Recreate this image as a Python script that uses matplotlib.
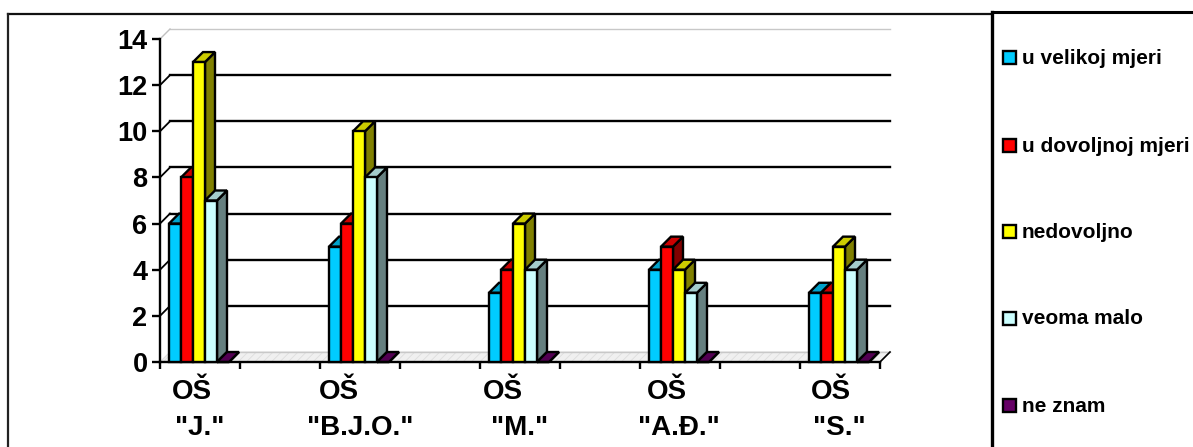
import matplotlib
matplotlib.use('Agg')
import matplotlib.pyplot as plt
from matplotlib.patches import Polygon, Rectangle

plt.rcParams['font.family'] = ['Liberation Sans', 'DejaVu Sans']
plt.rcParams['hatch.linewidth'] = 0.6

# Data
schools = ['"J."', '"B.J.O."', '"M."', '"A.Đ."', '"S."']
u_velikoj = [6, 5, 3, 4, 3]
u_dovoljnoj = [8, 6, 4, 5, 3]
nedovoljno = [13, 10, 6, 4, 5]
veoma_malo = [7, 8, 4, 3, 4]
ne_znam = [0, 0, 0, 0, 0]
series = [u_velikoj, u_dovoljnoj, nedovoljno, veoma_malo, ne_znam]
names = ['u velikoj mjeri', 'u dovoljnoj mjeri', 'nedovoljno', 'veoma malo', 'ne znam']
# front, top, side colours
front = ['#00ccff', '#ff0000', '#ffff00', '#ccffff', '#660066']
top = ['#00a3cc', '#cc0000', '#cccc00', '#a3cccc', '#520052']
side = ['#006680', '#800000', '#808000', '#668080', '#330033']

W, H = 1193, 447
fig = plt.figure(figsize=(W / 100, H / 100), dpi=100)

# pixel overlay for frame, labels and legend
bg = fig.add_axes([0, 0, 1, 1])
bg.set_xlim(0, W)
bg.set_ylim(H, 0)
bg.axis('off')
bg.plot([7.5, 992], [14, 14], color='#111111', lw=1.6)
bg.plot([7.5, 7.5], [14, 447], color='#222222', lw=1.6)
bg.plot([992, 992], [12, 447], color='black', lw=2.4)
bg.plot([992, 1193], [12, 12], color='black', lw=2.2)

# main axes: 0-14 maps to pixels 362-39, nine slots to pixels 160-880
ax = fig.add_axes([160 / W, 1 - 362 / H, 720 / W, 323 / H])
ax.set_xlim(0, 9)
ax.set_ylim(0, 14)
ax.patch.set_alpha(0)
for s in ['top', 'right']:
    ax.spines[s].set_visible(False)
for s in ['left', 'bottom']:
    ax.spines[s].set_linewidth(1.7)

dx = 10 / 80
dy = 10 / (323 / 14)

# back wall grid and floor
for v in range(2, 14, 2):
    ax.plot([dx, 9 + dx], [v + dy, v + dy], color='black', lw=1.7, clip_on=False, zorder=1)
    ax.plot([0, dx], [v, v + dy], color='black', lw=1.3, clip_on=False, zorder=1)
ax.plot([dx, 9 + dx], [14 + dy, 14 + dy], color='#c8c8c8', lw=1, clip_on=False, zorder=1)
ax.plot([0, dx], [14, 14 + dy], color='#c0c0c0', lw=1, clip_on=False, zorder=1)
ax.add_patch(Polygon([(0, 0), (dx, dy), (9 + dx, dy), (9, 0)], closed=True, fc='#f0f0f0',
                     ec='#dedede', hatch='////', lw=0.8, clip_on=False, zorder=1))
ax.plot([dx, 9 + dx], [dy, dy], color='#c8c8c8', lw=1, clip_on=False, zorder=1)
ax.plot([9, 9 + dx], [0, dy], color='black', lw=1.2, clip_on=False, zorder=2)

# bars with a fake 3d depth, groups sit in every second slot
bar_w = 12 / 80
start = 9 / 80
z = 3
for i in range(len(schools)):
    for j, vals in enumerate(series):
        x0 = 2 * i + start + j * bar_w
        x1 = x0 + bar_w
        v = vals[i]
        ax.add_patch(Polygon([(x1, 0), (x1 + dx, dy), (x1 + dx, v + dy), (x1, v)], closed=True,
                             fc=side[j], ec='black', lw=1.7, clip_on=False, zorder=z))
        ax.add_patch(Polygon([(x0, v), (x0 + dx, v + dy), (x1 + dx, v + dy), (x1, v)], closed=True,
                             fc=top[j], ec='black', lw=1.7, clip_on=False, zorder=z))
        ax.add_patch(Rectangle((x0, 0), bar_w, v, fc=front[j], ec='black', lw=1.7,
                               clip_on=False, zorder=z))
        z += 1

ax.set_yticks(range(0, 15, 2))
ax.tick_params(axis='y', length=6, width=1.7, pad=3, labelsize=19.5)
ax.set_xticks(range(10))
ax.set_xticklabels([])
ax.tick_params(axis='x', length=5, width=1.7)
for t in ax.get_yticklabels():
    t.set_fontweight('bold')

# school names, wrapped by hand like the original
os_x = [192, 339, 503, 667, 831]
name_x = [200, 360, 520, 679, 839]
for a, b, name in zip(os_x, name_x, schools):
    bg.text(a, 392, 'OŠ', fontsize=20, fontweight='bold', ha='center', va='center')
    bg.text(b, 428, name, fontsize=20, fontweight='bold', ha='center', va='center')

# legend
legend_y = [58, 146, 232, 319, 406]
for name, y, fc in zip(names, legend_y, front):
    bg.add_patch(Rectangle((1003, y - 7), 13, 13, fc=fc, ec='black', lw=1.7))
    bg.text(1022, y, name, fontsize=15, fontweight='bold', va='center', ha='left')

fig.savefig('out.png', dpi=100)
